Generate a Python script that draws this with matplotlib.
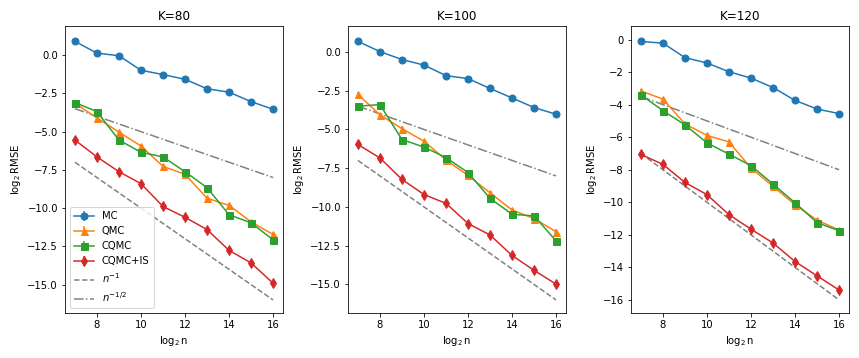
import numpy as np
import matplotlib
matplotlib.use("Agg")
import matplotlib.pyplot as plt

log2n = np.arange(7, 17)
titles = ["K=80", "K=100", "K=120"]

mc = [
    [0.90, 0.13, -0.04, -0.99, -1.27, -1.58, -2.20, -2.42, -3.04, -3.54],
    [0.68, 0.02, -0.49, -0.85, -1.53, -1.72, -2.36, -2.97, -3.59, -4.02],
    [-0.12, -0.22, -1.11, -1.44, -1.98, -2.37, -2.95, -3.74, -4.27, -4.55],
]
qmc = [
    [-3.15, -4.10, -5.03, -5.94, -7.27, -7.79, -9.35, -9.82, -10.90, -11.72],
    [-2.74, -4.06, -4.95, -5.76, -6.97, -7.97, -9.09, -10.20, -10.75, -11.60],
    [-3.16, -3.66, -5.18, -5.89, -6.29, -7.90, -9.02, -10.15, -11.10, -11.70],
]
cqmc = [
    [-3.10, -3.69, -5.55, -6.35, -6.65, -7.62, -8.66, -10.43, -10.96, -12.07],
    [-3.50, -3.40, -5.65, -6.14, -6.82, -7.78, -9.45, -10.47, -10.58, -12.19],
    [-3.40, -4.37, -5.24, -6.35, -7.04, -7.75, -8.88, -10.03, -11.25, -11.75],
]
cqmc_is = [
    [-5.55, -6.65, -7.62, -8.40, -9.89, -10.60, -11.40, -12.76, -13.58, -14.91],
    [-5.97, -6.84, -8.22, -9.20, -9.77, -11.07, -11.81, -13.13, -14.09, -14.98],
    [-7.06, -7.67, -8.78, -9.53, -10.76, -11.65, -12.50, -13.64, -14.52, -15.39],
]
err = [0.15, 0.15, 0.15, 0.15, 0.15, 0.15, 0.15, 0.15, 0.15, 0.15]

ref_n1 = -log2n.astype(float)
ref_n12 = -log2n / 2.0

fig = plt.figure(figsize=(859 / 72, 358 / 72), dpi=72)
lefts = [65 / 859, 348 / 859, 631 / 859]
w = 218 / 859
b = 1 - 313 / 358
h = (313 - 26) / 358

for i in range(3):
    ax = fig.add_axes([lefts[i], b, w, h])
    handles = []
    handles.append(ax.errorbar(log2n, mc[i], yerr=err, marker="o", ms=7, color="C0", label="MC"))
    handles.append(ax.errorbar(log2n, qmc[i], yerr=err, marker="^", ms=7, color="C1", label="QMC"))
    handles.append(ax.errorbar(log2n, cqmc[i], yerr=err, marker="s", ms=7, color="C2", label="CQMC"))
    handles.append(ax.errorbar(log2n, cqmc_is[i], yerr=err, marker="d", ms=7, color="C3", label="CQMC+IS"))
    handles.append(ax.plot(log2n, ref_n1, "--", color="gray", label=r"$n^{-1}$")[0])
    handles.append(ax.plot(log2n, ref_n12, "-.", color="gray", label=r"$n^{-1/2}$")[0])
    ax.set_title(titles[i])
    ax.set_xlabel(r"$\log_2$n")
    ax.set_ylabel(r"$\log_2$RMSE")
    if i == 0:
        ax.legend(handles=handles, loc="lower left")

fig.savefig("out.png", dpi=72)
